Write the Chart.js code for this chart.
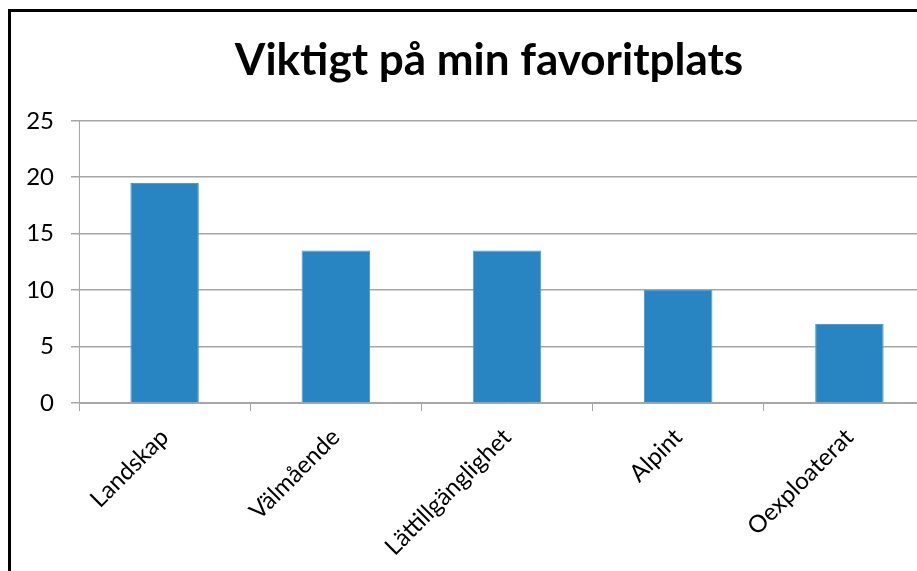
<!DOCTYPE html>
<html>
<head>
<meta charset="utf-8">
<script src="https://cdn.jsdelivr.net/npm/chart.js@4.4.0/dist/chart.umd.min.js"></script>
<style>
  html, body { margin: 0; padding: 0; background: #fff; overflow: hidden; }
  #frame { position: absolute; left: 8px; top: 9px; width: 1000px; height: 700px; border: 3px solid #000; }
  #wrap { position: absolute; left: 0; top: 0; width: 978px; height: 640px; }
</style>
</head>
<body>
<div id="frame"></div>
<div id="wrap"><canvas id="favChart"></canvas></div>
<script>
// Viktigt på min favoritplats
const categories = ['Landskap', 'Välmående', 'Lättillgänglighet', 'Alpint', 'Oexploaterat'];
const values = [19.5, 13.5, 13.5, 10, 7];
const yTicks = [0, 5, 10, 15, 20, 25];

const gridColor = '#a6a6a6';

const ctx = document.getElementById('favChart').getContext('2d');
const favChart = new Chart(ctx, {
  type: 'bar',
  data: {
    labels: categories,
    datasets: [{
      label: 'Viktigt',
      data: values,
      backgroundColor: '#2985c2',
      borderColor: '#4f9bd0',
      borderWidth: 1,
      barPercentage: 0.8,
      categoryPercentage: 0.5
    }]
  },
  options: {
    responsive: true,
    maintainAspectRatio: false,
    animation: false,
    layout: { padding: 0 },
    plugins: {
      legend: { display: false },
      tooltip: { enabled: false },
      title: {
        display: true,
        text: 'Viktigt på min favoritplats',
        color: '#000',
        font: { family: 'Lato', size: 44, weight: 'bold', lineHeight: 1.2 },
        padding: { top: 34, bottom: 34 }
      }
    },
    scales: {
      x: {
        offset: true,
        grid: { drawOnChartArea: false, offset: true, tickLength: 8, color: gridColor },
        border: { color: gridColor },
        ticks: {
          color: '#000',
          font: { family: 'Lato', size: 24 },
          minRotation: 45,
          maxRotation: 45,
          padding: 12
        },
        afterFit: s => { s.height = 237; s.paddingLeft = 0; s.paddingRight = 43; }
      },
      y: {
        min: 0,
        max: 25,
        afterBuildTicks: s => { s.ticks = yTicks.map(v => ({ value: v })); },
        grid: { color: gridColor, tickLength: 8, lineWidth: 1.5 },
        border: { color: gridColor },
        ticks: {
          color: '#000',
          font: { family: 'Lato', size: 24 },
          padding: 17
        },
        afterFit: s => { s.width = 79; }
      }
    }
  }
});
</script>
</body>
</html>
